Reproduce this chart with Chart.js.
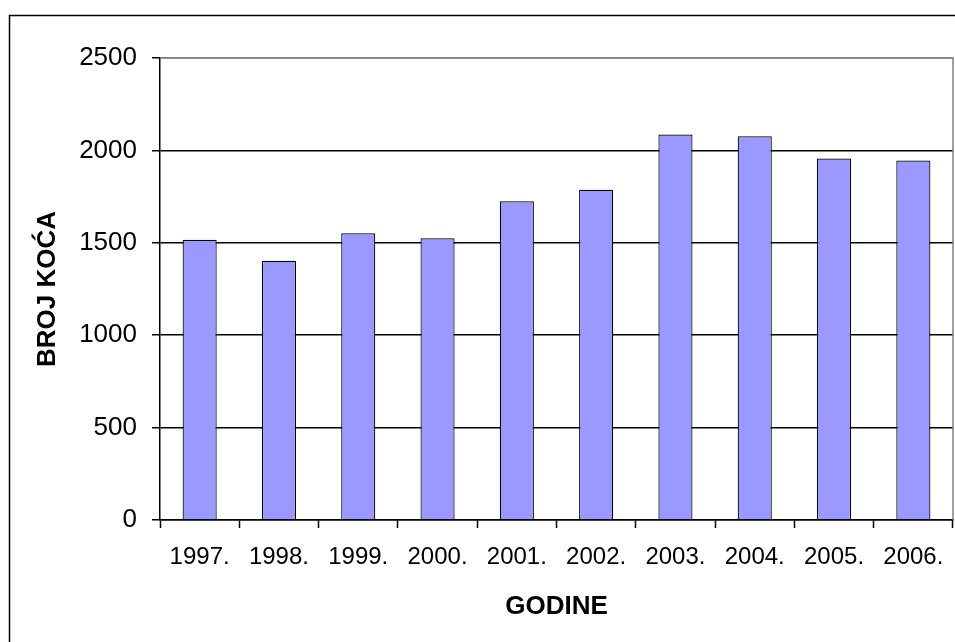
<!DOCTYPE html>
<html>
<head>
<meta charset="utf-8">
<script src="https://cdn.jsdelivr.net/npm/chart.js@4/dist/chart.umd.min.js"></script>
<style>
  html, body { margin: 0; padding: 0; background: #fff; }
  canvas { display: block; }
</style>
</head>
<body>
<canvas id="c" width="955" height="642"></canvas>
<script>
const categories = ["1997.", "1998.", "1999.", "2000.", "2001.", "2002.", "2003.", "2004.", "2005.", "2006."];
const brojKoca = [1516, 1403, 1552, 1525, 1725, 1787, 2086, 2076, 1956, 1945];
const yTicks = [0, 500, 1000, 1500, 2000, 2500];
const xTitle = "GODINE";
const yTitle = "BROJ KOĆA";

const FONT = "'Liberation Sans', Arial, sans-serif";

const framePlugin = {
  id: 'frame',
  beforeDraw(chart) {
    const ctx = chart.ctx;
    ctx.save();
    ctx.fillStyle = '#fff';
    ctx.fillRect(0, 0, chart.width, chart.height);
    ctx.strokeStyle = '#000';
    ctx.lineWidth = 1.5;
    ctx.beginPath();
    ctx.moveTo(9.5, chart.height + 2);
    ctx.lineTo(9.5, 15.5);
    ctx.lineTo(chart.width + 2, 15.5);
    ctx.stroke();
    ctx.restore();
  },
  afterDatasetsDraw(chart) {
    const a = chart.chartArea;
    const ctx = chart.ctx;
    ctx.save();
    ctx.strokeStyle = '#808080';
    ctx.lineWidth = 1.5;
    ctx.beginPath();
    ctx.moveTo(a.left, a.top);
    ctx.lineTo(a.right, a.top);
    ctx.lineTo(a.right, a.bottom);
    ctx.stroke();
    ctx.restore();
  }
};

new Chart(document.getElementById('c'), {
  type: 'bar',
  data: {
    labels: categories,
    datasets: [{
      label: yTitle,
      data: brojKoca,
      backgroundColor: '#9999FF',
      borderColor: '#000000',
      borderWidth: 1.2,
      categoryPercentage: 1.0,
      barPercentage: 0.43
    }]
  },
  options: {
    responsive: false,
    animation: false,
    layout: { padding: { left: 0, right: 2, top: 58, bottom: 0 } },
    plugins: {
      legend: { display: false },
      tooltip: { enabled: false }
    },
    scales: {
      x: {
        offset: true,
        afterFit(scale) { scale.height = 122; scale.paddingLeft = 0; scale.paddingRight = 0; },
        border: { display: true, color: '#000', width: 1.5 },
        grid: { display: true, drawOnChartArea: false, drawTicks: true, tickLength: 8, tickColor: '#000', tickWidth: 1.5, offset: true },
        ticks: { color: '#000', padding: 15, maxRotation: 0, autoSkip: false, font: { family: FONT, size: 24 } },
        title: { display: true, text: xTitle, color: '#000', padding: { top: 0, bottom: 22 }, font: { family: FONT, size: 26, weight: 'bold', lineHeight: 1 } }
      },
      y: {
        min: 0,
        max: 2500,
        afterFit(scale) { scale.width = 160; },
        afterBuildTicks(scale) { scale.ticks = yTicks.map(v => ({ value: v })); },
        border: { display: true, color: '#000', width: 1.5 },
        grid: {
          color: (ctx) => (ctx.tick && ctx.tick.value === 2500) ? '#808080' : '#000',
          lineWidth: 1.5,
          drawTicks: true,
          tickLength: 8,
          tickColor: '#000',
          tickWidth: 1.5
        },
        ticks: { color: '#000', padding: 15, font: { family: FONT, size: 26 }, callback: (v) => String(v) },
        title: { display: true, text: yTitle, color: '#000', padding: { top: 35, bottom: 0 }, font: { family: FONT, size: 26, weight: 'bold', lineHeight: 1 } }
      }
    }
  },
  plugins: [framePlugin]
});
</script>
</body>
</html>
